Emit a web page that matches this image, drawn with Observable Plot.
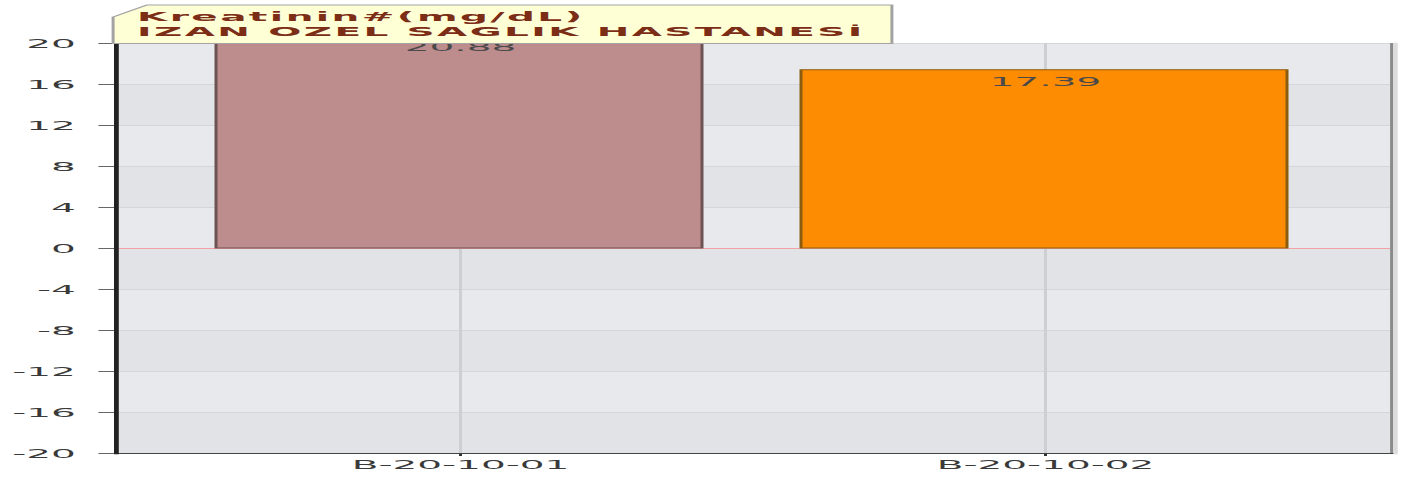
<!DOCTYPE html>
<html><head><meta charset="utf-8">
<script src="https://cdn.jsdelivr.net/npm/d3@7"></script>
<script src="https://cdn.jsdelivr.net/npm/@observablehq/plot@0.6"></script>
<style>body{margin:0;background:#fff;} #chart svg{display:block;}</style>
</head><body><div id="chart"></div>
<script>
const categories = ["B-20-10-01", "B-20-10-02"];
const values = [20.88, 17.39];
const valueLabels = ["20.88", "17.39"];
const barFills = ["#bd8c8d", "#fe8c03"];
const barStrokes = ["#6e5354", "#8c5c0e"];
const yTicks = [-20, -16, -12, -8, -4, 0, 4, 8, 12, 16, 20];
const bandFills = ["#e2e3e6", "#e7e9ec"];
const titleLines = ["Kreatinin#(mg/dL)", "IZAN OZEL SAGLIK HASTANESİ"];

const bars = categories.map((c, i) => ({category: c, value: values[i], label: valueLabels[i], fill: barFills[i], stroke: barStrokes[i]}));
const bands = yTicks.slice(0, -1).map((t, i) => ({y1: t, y2: yTicks[i + 1], fill: bandFills[i % 2]}));

const SX = 3; // the reference is stretched horizontally
const W = 1412 / SX, H = 480;

const chart = Plot.plot({
  width: W, height: H,
  marginLeft: 38.3, marginRight: 7.3, marginTop: 43, marginBottom: 27,
  style: {fontFamily: "DejaVu Sans", fontSize: "13px", color: "#333", background: "#fff", overflow: "visible"},
  x: {domain: categories, padding: 0.17, label: null},
  y: {domain: [-20, 20], label: null},
  color: {type: "identity"},
  marks: [
    Plot.rect(bands, {y1: "y1", y2: "y2", fill: "fill"}),
    Plot.ruleY(yTicks, {stroke: "#d4d6da", strokeWidth: 1}),
    Plot.ruleX(categories, {x: d => d, stroke: "#cdcfd2", strokeWidth: 1}),
    Plot.ruleY([0], {stroke: "#f2a2a6", strokeWidth: 1}),
    Plot.barY(bars, {x: "category", y: "value", fill: "fill", stroke: "stroke", strokeWidth: 1, clip: true}),
    Plot.text(bars, {x: "category", y: "value", text: "label", dy: 12, fill: "#4a4a4a", fontSize: 13}),
    Plot.axisY({ticks: yTicks, tickSize: 5.5, tickPadding: 8, tickFormat: d => String(d), stroke: "#666", fill: "#3a3a3a", label: null}),
    Plot.axisX({tickSize: 3, tickPadding: 3, stroke: "#333", fill: "#3a3a3a", label: null}),
    Plot.frame({anchor: "right", stroke: "#dcdcdc", strokeWidth: 1.5, dx: 1.3}),
    Plot.frame({anchor: "right", stroke: "#8a8a8a", strokeWidth: 1}),
    Plot.frame({anchor: "bottom", stroke: "#444", strokeWidth: 1.2}),
    Plot.frame({anchor: "left", stroke: "#222", strokeWidth: 1.6})
  ]
});

const svg = d3.select(chart);
svg.attr("width", 1412).attr("height", 480).attr("preserveAspectRatio", "none")
   .style("max-width", "none").style("width", "1412px").style("height", "480px");

// title box
const g = svg.append("g").attr("class", "title-box").attr("text-anchor", "start");
g.append("path")
  .attr("d", "M37.7,17 L49,5 L297.3,5 L297.3,43.5 L37.7,43.5 Z")
  .attr("fill", "#ffffd6").attr("stroke", "#a3a3a3").attr("stroke-width", 1);
titleLines.forEach((t, i) => {
  g.append("text")
    .attr("x", 45.7).attr("y", 21.5 + i * 15)
    .attr("text-anchor", "start")
    .attr("font-family", "DejaVu Sans").attr("font-weight", "bold")
    .attr("font-size", 13).attr("letter-spacing", 0.8)
    .attr("fill", "#7c2d16")
    .text(t);
});

document.getElementById("chart").appendChild(chart);
</script>
</body></html>
